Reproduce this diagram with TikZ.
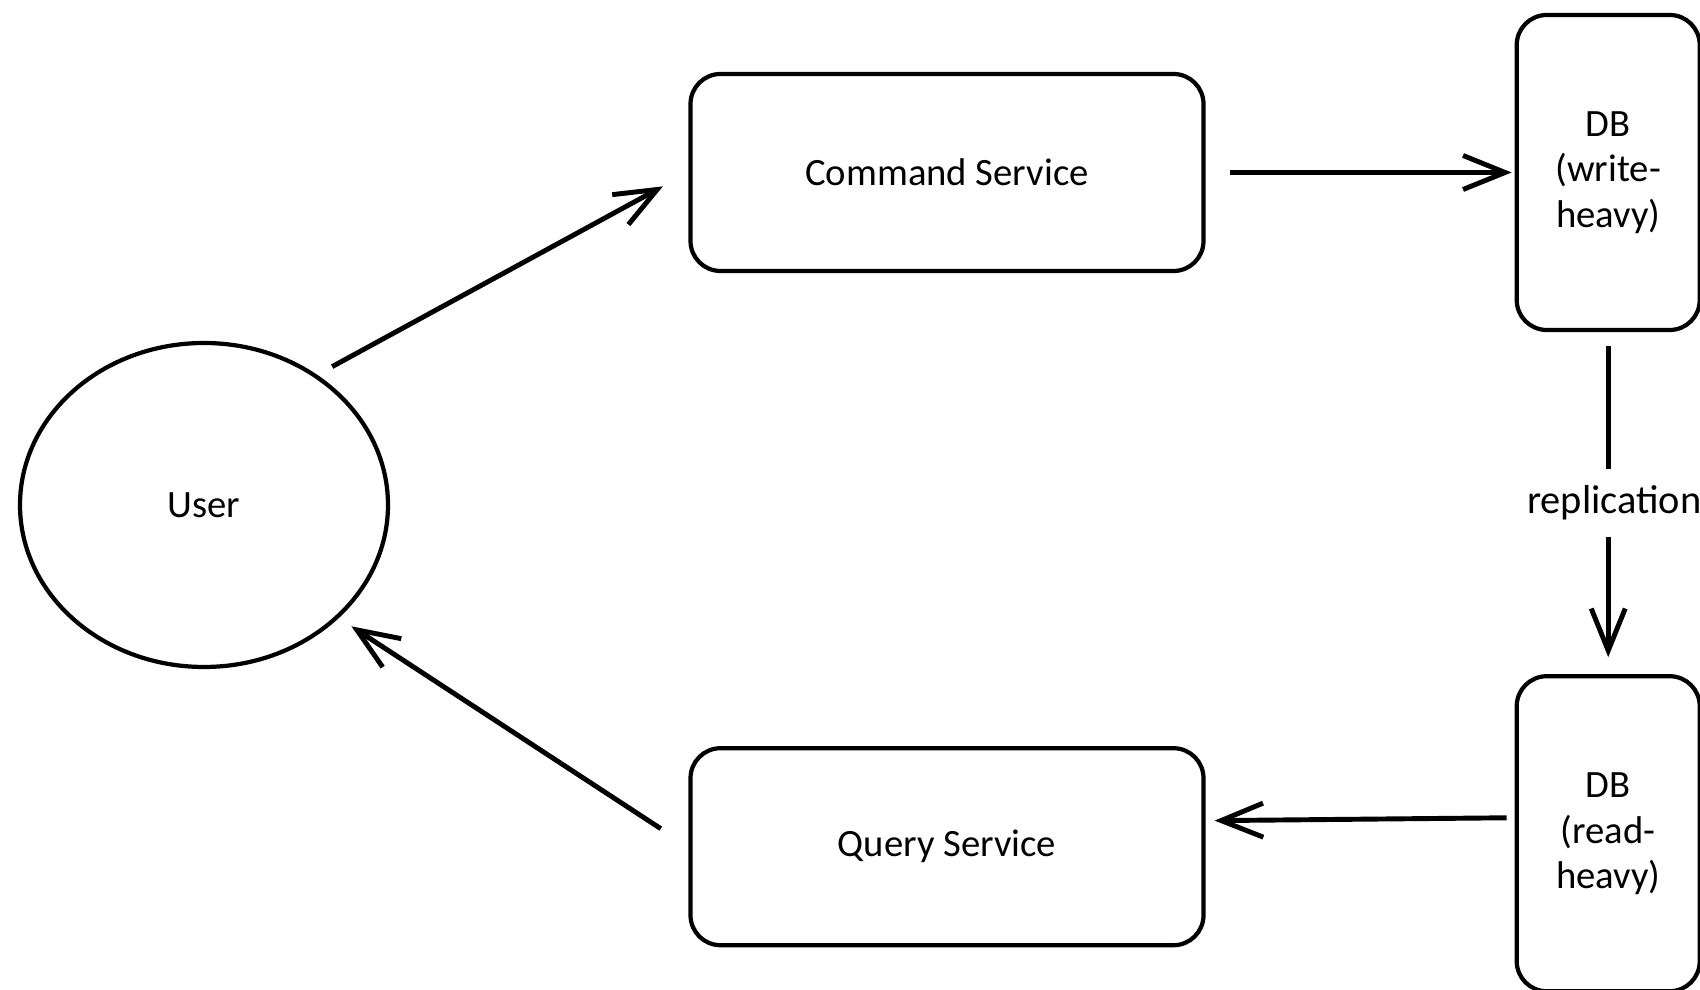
\documentclass[tikz,border=0pt]{standalone}
\usepackage{fontspec}
\setmainfont{Carlito}
\usetikzlibrary{arrows.meta}
\usetikzlibrary{shapes.geometric}
\usetikzlibrary{positioning}
\tikzset{
  service/.style = {draw, rounded corners = 0.3cm, line width = 1.2pt,
    minimum width = 5.13cm, minimum height = 1.97cm},
  store/.style = {draw, rounded corners = 0.3cm, line width = 1.2pt,
    minimum width = 1.83cm, minimum height = 3.15cm, align = center},
  flow/.style = {-{Straight Barb[length = 4.2mm, width = 3.4mm]}, line width = 1.4pt},
}

\begin{document}
\begin{tikzpicture}[font = \fontsize{11}{13}\selectfont]
    \useasboundingbox (0,0) rectangle (17,9.9);
    \node [ellipse, draw, line width = 1.2pt, minimum width = 3.68cm, minimum height = 3.24cm] (user) at (2.04,4.85) {User};
    \node [service] (cmd) at (9.47,8.175) {Command Service};
    \node [service, below = 4.73cm of cmd] (qry) {Query Service};
    \node [store, right = 3.09cm of cmd] (dbw) {DB\\(write-\\heavy)};
    \node [store, below = 3.42cm of dbw] (dbr) {DB\\(read-\\heavy)};
    % paths
    \draw [flow, shorten <= 1.7mm, shorten >= 2.9mm] (user.49) -- (cmd.west);
    \draw [flow, shorten <= 2.4mm, shorten >= 0.3mm] (cmd.east) -- (dbw.west);
    \draw [flow, shorten <= 1.4mm, shorten >= 1.7mm] (dbw.south) -- node [fill = white, font = \fontsize{11.5}{13}\selectfont, inner xsep = 1pt, inner ysep = 0.17cm, xshift = 0.6mm] {replication} (dbr.north);
    \draw [flow, shorten <= 0.8mm, shorten >= 0.9mm] ([yshift = 1.6mm] dbr.west) -- ([yshift = 2.6mm] qry.east);
    \draw [flow, shorten <= 3.3mm, shorten >= 1.5mm] (qry.west) -- (user.-40);
\end{tikzpicture}
\end{document}
